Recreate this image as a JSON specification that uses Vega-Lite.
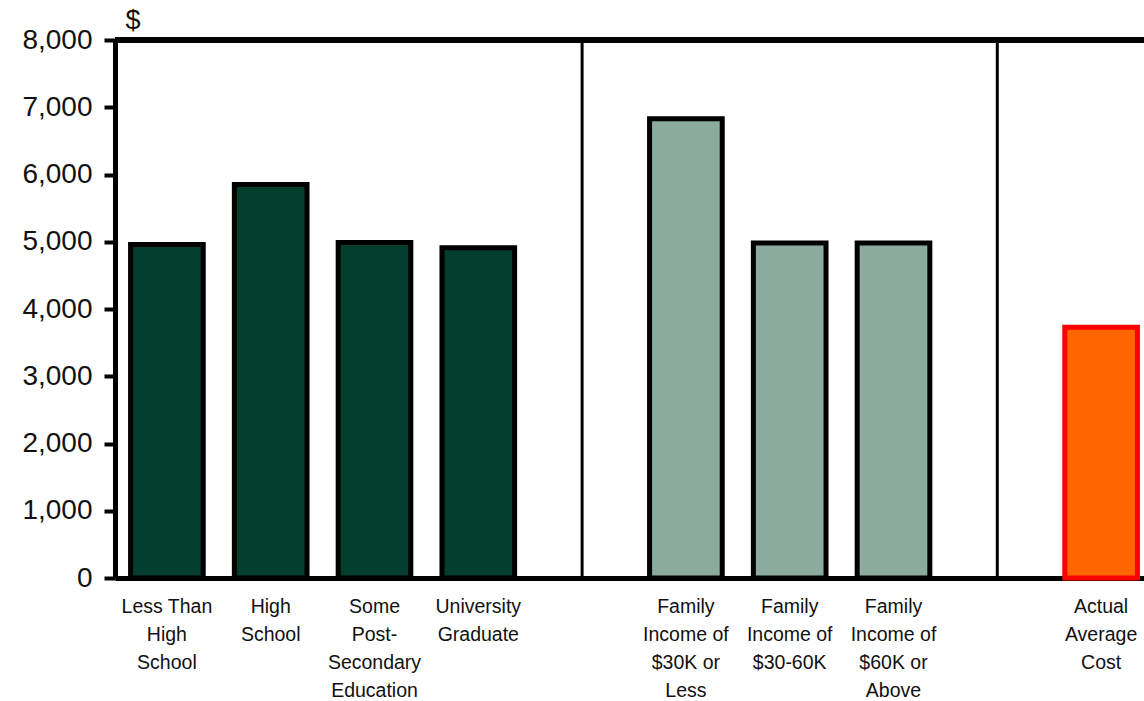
{
  "$schema": "https://vega.github.io/schema/vega-lite/v6.json",
  "autosize": {"type": "none"},
  "padding": {"left": 115, "top": 40, "right": -9, "bottom": 123},
  "width": 1038,
  "height": 538,
  "background": "white",
  "config": {
    "view": {"stroke": null},
    "font": "Liberation Sans"
  },
  "data": {
    "values": [
      {"category": "Less Than|High|School", "value": 4960, "group": "edu"},
      {"category": "High|School", "value": 5850, "group": "edu"},
      {"category": "Some|Post-|Secondary|Education", "value": 4990, "group": "edu"},
      {"category": "University|Graduate", "value": 4910, "group": "edu"},
      {"category": "Family|Income of|$30K or|Less", "value": 6830, "group": "inc"},
      {"category": "Family|Income of|$30-60K", "value": 4980, "group": "inc"},
      {"category": "Family|Income of|$60K or|Above", "value": 4980, "group": "inc"},
      {"category": "Actual|Average|Cost", "value": 3730, "group": "actual"}
    ]
  },
  "layer": [
    {
      "mark": {"type": "bar", "strokeWidth": 5, "strokeJoin": "miter"},
      "encoding": {
        "x": {
          "field": "category",
          "type": "nominal",
          "sort": null,
          "scale": {
            "domain": ["Less Than|High|School", "High|School", "Some|Post-|Secondary|Education", "University|Graduate", "gap1", "Family|Income of|$30K or|Less", "Family|Income of|$30-60K", "Family|Income of|$60K or|Above", "gap2", "Actual|Average|Cost"],
            "paddingInner": 0.3,
            "paddingOuter": 0.15
          },
          "axis": {
            "title": null,
            "labelAngle": 0,
            "labelExpr": "datum.label == 'gap1' || datum.label == 'gap2' ? '' : split(datum.label, '|')",
            "labelFontSize": 19.5,
            "labelLineHeight": 28,
            "labelColor": "#111111",
            "labelPadding": 19,
            "labelBaseline": "top",
            "ticks": false,
            "domainColor": "black",
            "domainWidth": 5,
            "labelFont": "Liberation Sans"
          }
        },
        "y": {
          "field": "value",
          "type": "quantitative",
          "scale": {"domain": [0, 8000], "nice": false},
          "axis": {
            "values": [0, 1000, 2000, 3000, 4000, 5000, 6000, 7000, 8000],
            "format": ",.0f",
            "grid": false,
            "title": "$",
            "titleAngle": 0,
            "titleAlign": "left",
            "titleBaseline": "bottom",
            "titleX": 10,
            "titleY": -6,
            "titleFontSize": 27,
            "titleFontWeight": "normal",
            "titleColor": "#111111",
            "labelFontSize": 28,
            "labelColor": "#111111",
            "labelPadding": 12,
            "tickSize": 11,
            "tickWidth": 4,
            "tickColor": "black",
            "domainColor": "black",
            "domainWidth": 5,
            "labelFont": "Liberation Sans"
          }
        },
        "fill": {
          "field": "group",
          "type": "nominal",
          "scale": {"domain": ["edu", "inc", "actual"], "range": ["#033d2b", "#8aab9e", "#ff6600"]},
          "legend": null
        },
        "stroke": {
          "field": "group",
          "type": "nominal",
          "scale": {"domain": ["edu", "inc", "actual"], "range": ["#000000", "#000000", "#ff0000"]},
          "legend": null
        }
      }
    },
    {
      "mark": {"type": "rule", "color": "black", "strokeWidth": 5},
      "encoding": {"y": {"datum": 8000, "type": "quantitative"}}
    },
    {
      "data": {"values": [{"divider": "gap1"}, {"divider": "gap2"}]},
      "mark": {"type": "rule", "color": "black", "strokeWidth": 3},
      "encoding": {
        "x": {"field": "divider", "type": "nominal"}
      }
    }
  ]
}
